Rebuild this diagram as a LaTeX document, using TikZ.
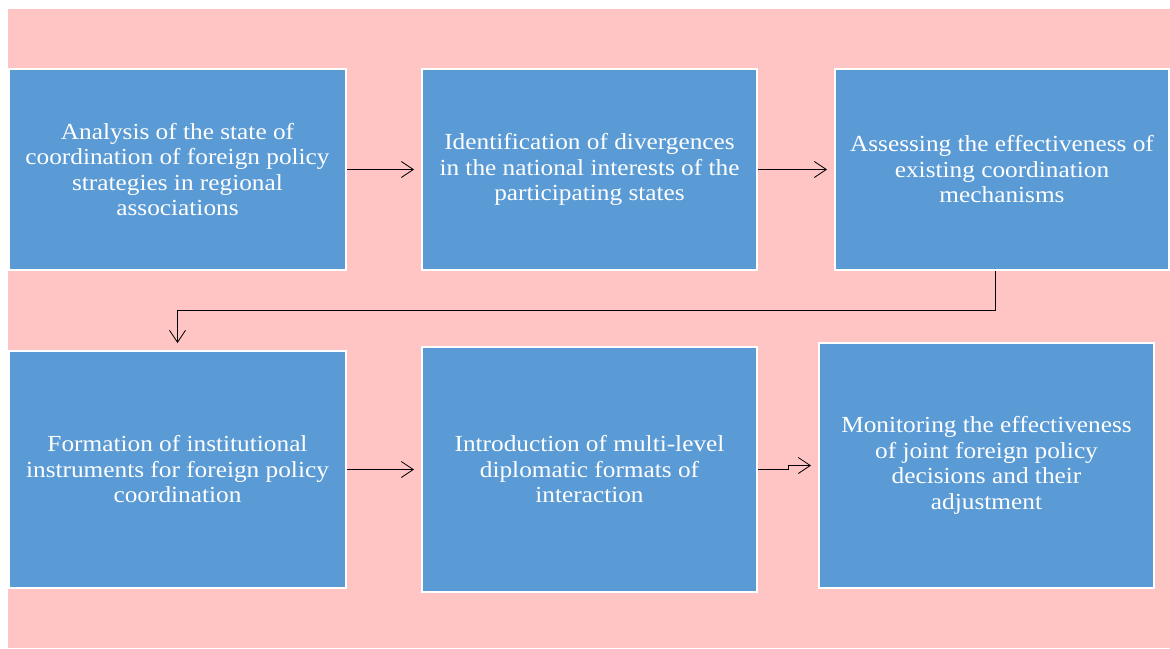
\documentclass[tikz,border=0pt]{standalone}
\usepackage{fontspec}
\setmainfont{Liberation Serif}[FakeStretch=1.1]
\usetikzlibrary{positioning,arrows.meta}
\definecolor{pinkbg}{RGB}{255,197,197}
\definecolor{boxblue}{RGB}{91,155,213}
\begin{document}
\begin{tikzpicture}[x=1pt,y=-1pt,
    stage/.style={draw=white,line width=2pt,fill=boxblue,text=white,align=center,
      font=\fontsize{23}{25.5}\selectfont,inner sep=0pt},
    flow/.style={-{Straight Barb[length=12pt,width=16pt]},line width=0.8pt,shorten >=7pt}]
    \useasboundingbox (0,0) rectangle (1170,648);
    \fill [pinkbg] (8,9) rectangle (1170,648);
    \node [stage,minimum width=337pt,minimum height=201pt] (b1) at (177.5,169.5)
      {Analysis of the state of\\coordination of foreign policy\\strategies in regional\\associations};
    \node [stage,minimum width=335pt,minimum height=201pt] (b2) at (589.5,169.5)
      {Identification of divergences\\in the national interests of the\\participating states};
    \node [stage,minimum width=334pt,minimum height=201pt] (b3) at (1002,169.5)
      {Assessing the effectiveness of\\existing coordination\\mechanisms};
    \node [stage,minimum width=337pt,minimum height=237pt] (b4) at (177.5,469.5)
      {Formation of institutional\\instruments for foreign policy\\coordination};
    \node [stage,minimum width=335pt,minimum height=245pt] (b5) at (589.5,469.5)
      {Introduction of multi-level\\diplomatic formats of\\interaction};
    \node [stage,minimum width=335pt,minimum height=245pt] (b6) at (986.5,465.5)
      {Monitoring the effectiveness\\of joint foreign policy\\decisions and their\\adjustment};
    \draw [flow] (b1) -- (b2);
    \draw [flow] (b2) -- (b3);
    \draw [flow] ([xshift=-7pt]b3.south) -- ++(0,39) -| (b4);
    \draw [flow] (b4) -- (b5);
    \draw [flow] (b5.east) -- ++(30,0) |- (b6.west);
\end{tikzpicture}
\end{document}
